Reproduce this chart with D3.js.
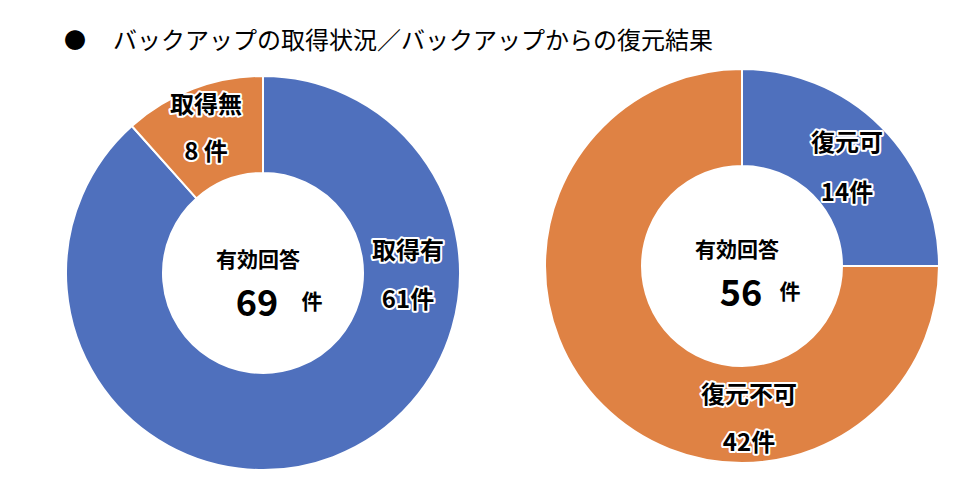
<!DOCTYPE html>
<html>
<head>
<meta charset="utf-8">
<script src="https://cdn.jsdelivr.net/npm/d3@7"></script>
<style>
  body { margin: 0; background: #fff; }
  svg { font-family: "Noto Sans CJK JP", "Noto Sans", sans-serif; }
  .lbl { font-weight: bold; fill: #000; stroke: #fff; stroke-width: 4px; paint-order: stroke; stroke-linejoin: round; }
  .ctr { font-weight: bold; fill: #000; }
</style>
</head>
<body>
<div id="chart"></div>
<script>
// data
var title = "バックアップの取得状況／バックアップからの復元結果";

var leftCats = ["取得有", "取得無"];
var leftValues = [61, 8];

var rightCats = ["復元可", "復元不可"];
var rightValues = [14, 42];

var colors = ["#4F70BD", "#DF8244"];

var svgWidth = 980;
var svgHeight = 492;

var svg = d3.select("#chart")
  .append("svg")
  .attr("width", svgWidth)
  .attr("height", svgHeight);

// title
svg.append("text")
  .attr("x", 64)
  .attr("y", 48)
  .attr("font-size", 22)
  .text("●");
svg.append("text")
  .attr("x", 113)
  .attr("y", 49)
  .attr("font-size", 24)
  .text(title);

var outerR = 197;
var innerR = 100;

var pie = d3.pie().sort(null).value(d => d);
var arc = d3.arc().innerRadius(innerR).outerRadius(outerR);

function donut(cx, cy, values) {
  var g = svg.append("g")
    .attr("transform", `translate(${cx}, ${cy})`);
  g.selectAll("path")
    .data(pie(values))
    .enter()
    .append("path")
    .attr("d", arc)
    .style("fill", (d, i) => colors[i])
    .style("stroke", "#fff")
    .style("stroke-width", 2);
  return g;
}

var left = donut(263, 273, leftValues);
var right = donut(742, 266, rightValues);

// slice labels, offsets from donut centre
function sliceLabel(g, x, y, name, count, gap) {
  g.append("text").attr("class", "lbl")
    .attr("x", x).attr("y", y)
    .attr("text-anchor", "middle")
    .attr("dominant-baseline", "central")
    .attr("font-size", 24)
    .text(name);
  g.append("text").attr("class", "lbl")
    .attr("x", x).attr("y", y + gap)
    .attr("text-anchor", "middle")
    .attr("dominant-baseline", "central")
    .attr("font-size", 24)
    .text(count + (name === "取得無" ? " 件" : "件"));
}

sliceLabel(left, 145, -25, leftCats[0], leftValues[0], 49);
sliceLabel(left, -57, -171, leftCats[1], leftValues[1], 47);
sliceLabel(right, 105, -126, rightCats[0], rightValues[0], 50);
sliceLabel(right, 7, 126, rightCats[1], rightValues[1], 48);

// centre text
function centre(g, dy, total, numX, unitX) {
  g.append("text").attr("class", "ctr")
    .attr("x", -5).attr("y", dy)
    .attr("text-anchor", "middle")
    .attr("dominant-baseline", "central")
    .attr("font-size", 21)
    .text("有効回答");
  g.append("text").attr("class", "ctr")
    .attr("x", numX).attr("y", dy + 42)
    .attr("text-anchor", "middle")
    .attr("dominant-baseline", "central")
    .attr("font-size", 36)
    .text(total);
  g.append("text").attr("class", "ctr")
    .attr("x", unitX).attr("y", dy + 42)
    .attr("text-anchor", "middle")
    .attr("dominant-baseline", "central")
    .attr("font-size", 21)
    .text("件");
}

centre(left, -15, d3.sum(leftValues), -6, 49);
centre(right, -18, d3.sum(rightValues), -1, 48);
</script>
</body>
</html>
